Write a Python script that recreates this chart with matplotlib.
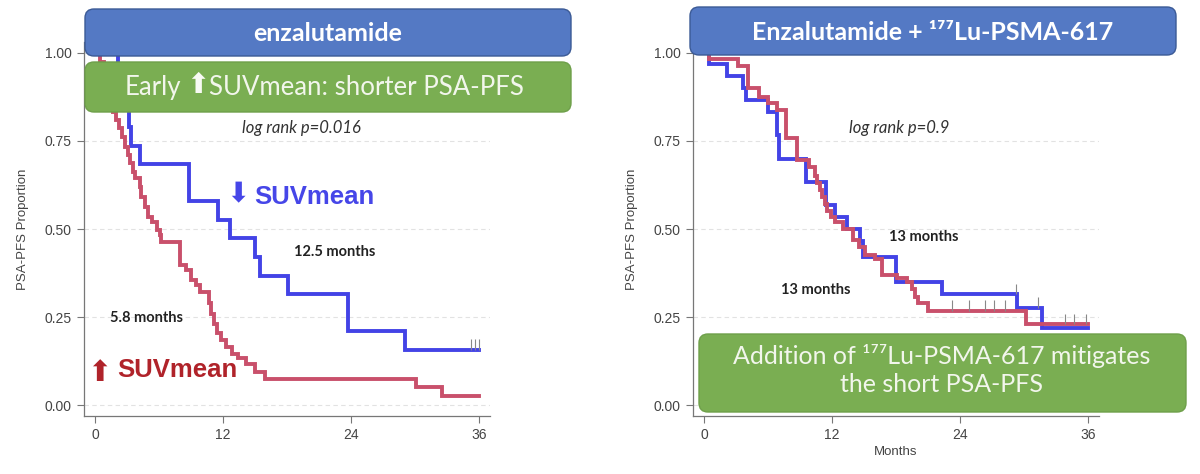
import matplotlib
matplotlib.use("Agg")
import matplotlib.pyplot as plt
from matplotlib.patches import FancyBboxPatch

plt.rcParams['font.family'] = ['Liberation Sans', 'DejaVu Sans']

# Kaplan-Meier steps (months, proportion after each drop)
enza_low_t = [0, 2.18, 2.4, 2.9, 3.2, 3.34, 4.2, 8.8, 11.5, 12.7, 15.0, 15.45, 18.07, 23.7, 29.06]
enza_low_s = [1.0, 0.947, 0.895, 0.842, 0.789, 0.737, 0.684, 0.579, 0.526, 0.474, 0.421, 0.368, 0.316, 0.211, 0.158]
enza_low_cens = [35.2, 35.6, 36.0]

enza_high_t = [0, 0.5, 0.8, 1.1, 1.4, 1.71, 1.96, 2.28, 2.5, 2.8, 3.1, 3.27, 3.52, 3.74, 4.2,
               4.36, 4.68, 5.0, 5.3, 5.83, 6.1, 6.23, 7.95, 8.57, 9.0, 9.5, 9.8, 10.7, 10.9,
               11.2, 11.4, 11.85, 12.3, 12.8, 13.4, 14.2, 15.0, 15.9, 30.1, 32.5]
enza_high_s = [1.0, 0.974, 0.947, 0.895, 0.860, 0.833, 0.81, 0.786, 0.762, 0.734, 0.71, 0.687,
               0.663, 0.644, 0.62, 0.592, 0.563, 0.535, 0.521, 0.497, 0.483, 0.464, 0.398, 0.384,
               0.355, 0.341, 0.322, 0.289, 0.26, 0.232, 0.204, 0.185, 0.166, 0.147, 0.135, 0.116,
               0.095, 0.074, 0.053, 0.026]

lu_low_t = [0, 0.5, 2.13, 3.7, 3.9, 6.03, 6.8, 7.06, 9.6, 11.4, 12.3, 13.4, 14.6, 14.9, 18.0, 22.3, 29.3, 31.7]
lu_low_s = [1.0, 0.967, 0.933, 0.90, 0.867, 0.833, 0.767, 0.70, 0.633, 0.567, 0.533, 0.50, 0.467,
            0.42, 0.35, 0.315, 0.276, 0.22]
lu_low_cens_t = [29.2, 31.3]
lu_low_cens_s = [0.315, 0.276]

lu_high_t = [0, 0.5, 3.2, 4.15, 5.2, 6.03, 6.8, 7.7, 8.75, 9.8, 10.4, 10.6, 10.9, 11.1, 11.3, 11.5,
             11.9, 12.3, 13.06, 14.0, 14.56, 15.1, 16.0, 16.65, 18.06, 19.0, 19.5, 19.8, 20.1, 21.0, 30.2]
lu_high_s = [1.0, 0.982, 0.963, 0.899, 0.875, 0.857, 0.838, 0.757, 0.696, 0.677, 0.65, 0.63, 0.61,
             0.59, 0.57, 0.55, 0.535, 0.52, 0.50, 0.469, 0.45, 0.427, 0.414, 0.37, 0.36, 0.351,
             0.33, 0.308, 0.29, 0.269, 0.23]
lu_high_cens_t = [23.2, 24.8, 26.3, 27.2, 28.2, 33.8, 34.7, 35.8]
lu_high_cens_s = [0.269, 0.269, 0.269, 0.269, 0.269, 0.23, 0.23, 0.23]

followup_end = 36
xticks = [0, 12, 24, 36]
yticks = [0.0, 0.25, 0.5, 0.75, 1.0]

BLUE = '#4343E6'
RED = '#C9506B'

fig = plt.figure(figsize=(12, 4.74), dpi=100)
ax1 = fig.add_axes([84.3 / 1200, 0.1224, 405.5 / 1200, 0.7886])
ax2 = fig.add_axes([693.3 / 1200, 0.1224, 405.5 / 1200, 0.7886])


def km(ax, t, s, color, z):
    ax.step(list(t) + [followup_end], list(s) + [s[-1]], where='post',
            color=color, lw=2.8, zorder=z, solid_joinstyle='miter')


def cens(ax, t, s):
    ax.vlines(t, s, [v + 0.03 for v in s], color='#888888', lw=0.8, zorder=4)


for ax in (ax1, ax2):
    ax.set_xlim(-1.0, 37.0)
    ax.set_ylim(-0.03, 1.03)
    ax.set_xticks(xticks)
    ax.set_yticks(yticks)
    ax.set_yticklabels(['%.2f' % v for v in yticks])
    for v in yticks:
        ax.axhline(v, color='#E2E2E2', lw=0.8, ls=(0, (4, 3)), zorder=0)
    for sp in ('top', 'right'):
        ax.spines[sp].set_visible(False)
    for sp in ('left', 'bottom'):
        ax.spines[sp].set_color('#777777')
        ax.spines[sp].set_linewidth(0.9)
    ax.tick_params(direction='out', length=5, width=0.8, color='#777777',
                   labelcolor='#444444', labelsize=10, pad=4)
    ax.set_ylabel('PSA-PFS Proportion', fontsize=9.5, color='#444444')
    ax.yaxis.set_label_coords(-0.136, 0.5)

# left panel
km(ax1, enza_low_t, enza_low_s, BLUE, 3)
km(ax1, enza_high_t, enza_high_s, RED, 3)
cens(ax1, enza_low_cens, [enza_low_s[-1]] * len(enza_low_cens))
ax1.text(19.35, 0.787, 'log rank p=0.016', family=['Lato', 'DejaVu Sans'], style='italic',
         fontsize=12, color='#333333', ha='center', va='center')
ax1.text(12.3, 0.6, '\u2b07', family=['DejaVu Sans'], fontsize=20, color='#4646E8',
         ha='left', va='center')
ax1.text(14.9, 0.59, 'SUVmean', fontsize=18.5, fontweight='bold', color='#4646E8',
         ha='left', va='center')
ax1.text(22.5, 0.435, '12.5 months', family=['Lato', 'DejaVu Sans'], fontweight='bold',
         fontsize=10.5, color='#222222', ha='center', va='center')
ax1.text(4.87, 0.247, '5.8 months', family=['Lato', 'DejaVu Sans'], fontweight='bold',
         fontsize=10.5, color='#222222', ha='center', va='center')
ax1.text(-0.7, 0.092, '\u2b06', family=['DejaVu Sans'], fontsize=21, color='#B0232A',
         ha='left', va='center')
ax1.text(2.1, 0.099, 'SUVmean', fontsize=18.5, fontweight='bold', color='#B0232A',
         ha='left', va='center')

# right panel
km(ax2, lu_low_t, lu_low_s, BLUE, 3)
km(ax2, lu_high_t, lu_high_s, RED, 3.5)
cens(ax2, lu_low_cens_t, lu_low_cens_s)
cens(ax2, lu_high_cens_t, lu_high_cens_s)
ax2.text(18.3, 0.786, 'log rank p=0.9', family=['Lato', 'DejaVu Sans'], style='italic',
         fontsize=12, color='#333333', ha='center', va='center')
ax2.text(20.6, 0.477, '13 months', family=['Lato', 'DejaVu Sans'], fontweight='bold',
         fontsize=10.5, color='#222222', ha='center', va='center')
ax2.text(10.45, 0.327, '13 months', family=['Lato', 'DejaVu Sans'], fontweight='bold',
         fontsize=10.5, color='#222222', ha='center', va='center')
ax2.set_xlabel('Months', fontsize=9.5, color='#444444')
ax2.xaxis.set_label_coords(0.5, -0.079)

# slide overlay boxes, in pixel units
ov = fig.add_axes([0, 0, 1, 1])
ov.set_xlim(0, 1200)
ov.set_ylim(474, 0)
ov.axis('off')
ov.set_zorder(5)

boxes = [
    (85, 9, 486, 47, '#5479C4', '#3B5A96'),
    (85, 62, 486, 50, '#7AAE52', '#6E9F4A'),
    (690, 7, 486, 48, '#5479C4', '#3B5A96'),
    (699, 334, 487, 78, '#7AAE52', '#6E9F4A'),
]
for x, y, w, h, fc, ec in boxes:
    ov.add_patch(FancyBboxPatch((x, y), w, h, boxstyle='round,pad=0,rounding_size=9',
                                fc=fc, ec=ec, lw=1.0))

box_font = ['Lato', 'DejaVu Sans']
ov.text(328, 33, 'enzalutamide', family=box_font, fontweight='bold', fontsize=18,
        color='white', ha='center', va='center')
ov.text(125, 87, 'Early', family=box_font, fontsize=18.5, color='#F2F6EC',
        ha='left', va='center')
ov.text(186, 85, '\u2b06', family=['DejaVu Sans'], fontsize=20, color='#F8FAF4',
        ha='left', va='center')
ov.text(209, 87, 'SUVmean: shorter PSA-PFS', family=box_font, fontsize=18.5,
        color='#F2F6EC', ha='left', va='center')
ov.text(933, 32, 'Enzalutamide + \u00b9\u2077\u2077Lu-PSMA-617', family=box_font,
        fontweight='bold', fontsize=18, color='white', ha='center', va='center')
ov.text(942, 370, 'Addition of \u00b9\u2077\u2077Lu-PSMA-617 mitigates\nthe short PSA-PFS',
        family=box_font, fontsize=18, color='#F2F6EC', ha='center', va='center',
        linespacing=1.3)

fig.savefig('out.png', dpi=100)
